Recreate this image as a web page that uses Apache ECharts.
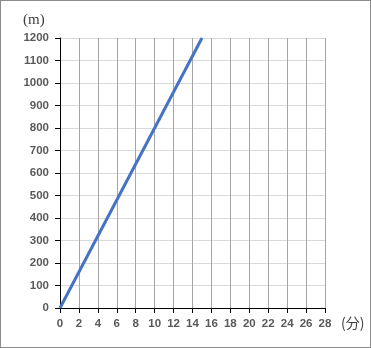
<!DOCTYPE html>
<html><head><meta charset="utf-8">
<script src="https://cdn.jsdelivr.net/npm/echarts@6/dist/echarts.min.js"></script>
<style>
html,body{margin:0;padding:0;background:#fff;}
#c{width:371px;height:348px;box-sizing:border-box;border:1px solid #8c8c8c;}
</style></head><body>
<div id="c"></div>
<script>
const timeMin = [0, 15];
const distanceM = [0, 1200];
const xTicks = [0,2,4,6,8,10,12,14,16,18,20,22,24,26,28];
const yTicks = [0,100,200,300,400,500,600,700,800,900,1000,1100,1200];
const xUnit = '(分)';
const yUnit = '(m)';

const chart = echarts.init(document.getElementById('c'), null, {renderer:'canvas'});
const labelStyle = {color:'#595959', fontWeight:'bold', fontSize:11.5, fontFamily:'Liberation Sans, Arial, sans-serif'};
chart.setOption({
  animation:false,
  grid:{left:59, right:45, top:37, bottom:39},
  xAxis:{
    type:'value', min:xTicks[0], max:xTicks[xTicks.length-1], interval:2,
    axisLine:{show:true, lineStyle:{color:'#000', width:1}},
    axisTick:{show:true, length:5, lineStyle:{color:'#000'}},
    axisLabel:Object.assign({margin:10, formatter:v=>String(v)}, labelStyle),
    splitLine:{show:true, lineStyle:{color:'#a6a6a6', width:1}}
  },
  yAxis:{
    type:'value', min:yTicks[0], max:yTicks[yTicks.length-1], interval:100,
    axisLine:{show:true, lineStyle:{color:'#000', width:1}},
    axisTick:{show:true, length:5, lineStyle:{color:'#000'}},
    axisLabel:Object.assign({margin:11, formatter:v=>String(v)}, labelStyle),
    splitLine:{show:true, lineStyle:{color:'#d9d9d9', width:1}}
  },
  graphic:[
    {type:'text', left:22, top:12, style:{text:yUnit, fill:'#404040', font:'15px "Liberation Serif", serif'}},
    {type:'text', left:340, top:315, style:{text:xUnit, fill:'#404040', font:'14px "Noto Sans CJK JP", sans-serif'}}
  ],
  series:[{
    type:'line', data:timeMin.map((t,i)=>[t, distanceM[i]]),
    symbol:'none', lineStyle:{color:'#4472C4', width:3}
  }]
});
</script>
</body></html>
